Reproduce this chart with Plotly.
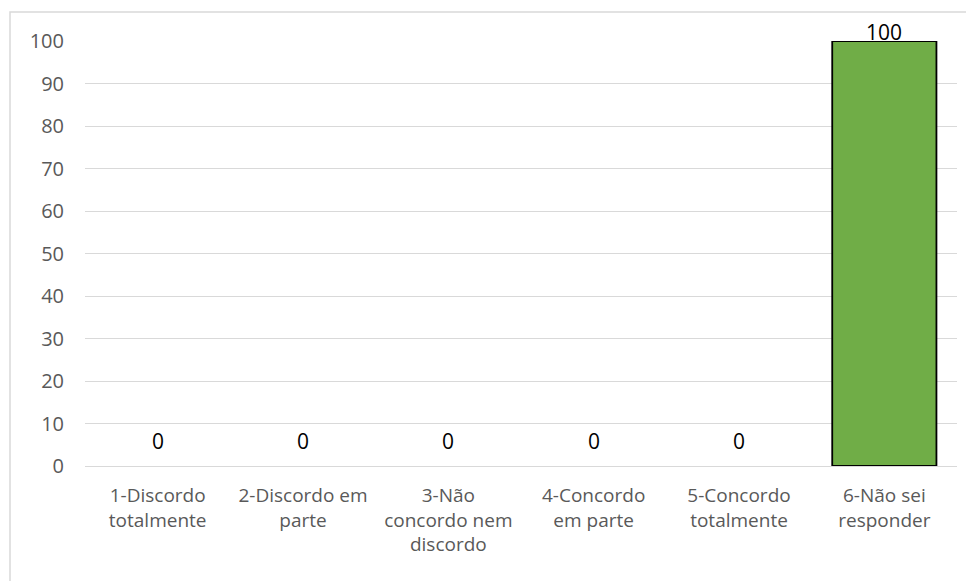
import plotly.graph_objects as go

categories = ["1-Discordo<br>totalmente", "2-Discordo em<br>parte", "3-Não<br>concordo nem<br>discordo",
              "4-Concordo<br>em parte", "5-Concordo<br>totalmente", "6-Não sei<br>responder"]
values = [0, 0, 0, 0, 0, 100]
tick_vals = [0, 10, 20, 30, 40, 50, 60, 70, 80, 90, 100]

FONT = "Open Sans"
fig = go.Figure()
fig.add_trace(go.Bar(
    x=categories, y=values,
    marker=dict(color="#70AD47",
                line=dict(color="black", width=[1.8 if v > 0 else 0 for v in values])),
    width=0.717, cliponaxis=False, showlegend=False,
))
for c, v in zip(categories, values):
    fig.add_annotation(x=c, y=v, text=str(v), showarrow=False, yanchor="middle",
                       yshift=25 if v == 0 else 9,
                       font=dict(family=FONT, size=21, color="black"))

# page body has an 8px margin
W, H = 966, 573
L, R, T, B = 77, 17, 33, 115
pw, ph = W - L - R, H - T - B
fig.add_shape(type="rect", xref="paper", yref="paper",
              x0=(2 - L) / pw, x1=(W + 20 - L) / pw,
              y0=-(B + 20) / ph, y1=1 + (T - 4) / ph,
              line=dict(color="#D9D9D9", width=1.5), fillcolor="rgba(0,0,0,0)", layer="below")

fig.update_layout(
    width=W, height=H, margin=dict(l=L, r=R, t=T, b=B),
    plot_bgcolor="white", paper_bgcolor="white",
    font=dict(family=FONT, size=19, color="#595959"),
    xaxis=dict(showgrid=False, showline=False, ticks="", ticklabelstandoff=16,
               tickfont=dict(size=19, color="#595959")),
    yaxis=dict(range=[0, 100], tickvals=tick_vals, showgrid=True, gridcolor="#D9D9D9", gridwidth=1.2,
               zeroline=True, zerolinecolor="#D9D9D9", zerolinewidth=1.2, ticks="",
               ticklabelstandoff=20, tickfont=dict(size=20, color="#595959")),
)
fig.write_html("out.html")
